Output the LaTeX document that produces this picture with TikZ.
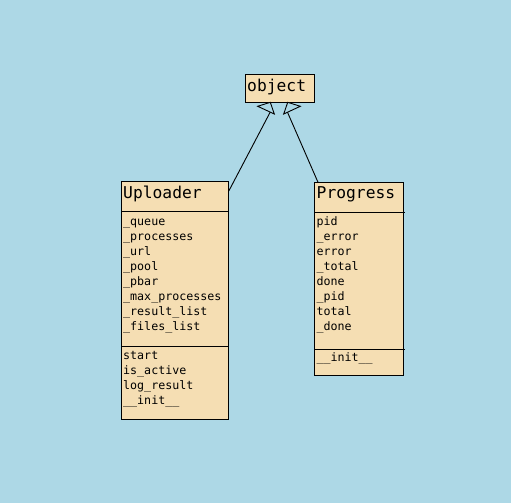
\documentclass[tikz,border=0pt]{standalone}
\usepackage{fontspec}
\setmonofont{DejaVu Sans Mono}
\usetikzlibrary{calc}
\definecolor{bg}{RGB}{173,216,230}
\definecolor{wheatc}{RGB}{245,222,179}
\begin{document}
\begin{tikzpicture}[x=1pt,y=-1pt,
  box/.style={draw=black, fill=wheatc, line width=1pt, anchor=north west, inner sep=0pt, outer sep=0pt},
  ttl/.style={anchor=base west, inner sep=0pt, font=\fontsize{16.3}{16.3}\selectfont\ttfamily},
  mem/.style={anchor=base west, inner sep=0pt, font=\fontsize{11.65}{11.65}\selectfont\ttfamily},
  sepline/.style={line width=1pt},
  conn/.style={line width=0.9pt},
  head/.style={draw=black, line width=0.9pt, fill=bg, line join=miter}]
\fill[bg] (0,0) rectangle (511,503);
\useasboundingbox (0,0) rectangle (511,503);

% object
\node[box, minimum width=69pt, minimum height=28pt] (obj) at (245.3,74.3) {};
\node[ttl] (objt) at (247,91.5) {object};

% Uploader
\node[box, minimum width=107pt, minimum height=238pt] (upl) at (121.3,181.3) {};
\node[ttl] (uplt) at (123,198) {Uploader};
\draw[sepline] (121.3,211.3) -- (229.3,211.3);
\draw[sepline] (121.3,346) -- (229.3,346);
\node[mem] (u1) at (123,225) {\_queue};
\node[mem] (u2) at (123,240) {\_processes};
\node[mem] (u3) at (123,255) {\_url};
\node[mem] (u4) at (123,270) {\_pool};
\node[mem] (u5) at (123,285) {\_pbar};
\node[mem] (u6) at (123,300) {\_max\_processes};
\node[mem] (u7) at (123,315) {\_result\_list};
\node[mem] (u8) at (123,330) {\_files\_list};
\node[mem] (um1) at (123,359.5) {start};
\node[mem] (um2) at (123,374.5) {is\_active};
\node[mem] (um3) at (123,389.5) {log\_result};
\node[mem] (um4) at (123,404.5) {\_\_init\_\_};

% Progress
\node[box, minimum width=89.4pt, minimum height=193pt] (prg) at (314.3,182.3) {};
\node[ttl] (prgt) at (316.5,198.3) {Progress};
\draw[sepline] (314.3,212.3) -- (404.7,212.3);
\draw[sepline] (314.3,349) -- (404.7,349);
\node[mem] (p1) at (316.3,225.5) {pid};
\node[mem] (p2) at (316.3,240.5) {\_error};
\node[mem] (p3) at (316.3,255.5) {error};
\node[mem] (p4) at (316.3,270.5) {\_total};
\node[mem] (p5) at (316.3,285.5) {done};
\node[mem] (p6) at (316.3,300.5) {\_pid};
\node[mem] (p7) at (316.3,315.5) {total};
\node[mem] (p8) at (316.3,330.5) {\_done};
\node[mem] (pm1) at (316.3,361.5) {\_\_init\_\_};

% connectors
\coordinate (uplS) at (228.8,191);
\coordinate (prgS) at (318,182.3);
\coordinate (lA) at (257.7,106.3);
\coordinate (lB) at (270.3,102.3);
\coordinate (lC) at (274.3,114);
\coordinate (rA) at (300.3,106.3);
\coordinate (rB) at (287.7,102.3);
\coordinate (rC) at (283.7,114);
\coordinate (lM) at ($(lB)!0.5!(lC)$);
\coordinate (rM) at ($(rB)!0.5!(rC)$);
\draw[conn] (uplS) -- (lM);
\draw[conn] (prgS) -- (rM);
\draw[head] (lA) -- (lB) -- (lC) -- cycle;
\draw[head] (rA) -- (rB) -- (rC) -- cycle;
\end{tikzpicture}
\end{document}
